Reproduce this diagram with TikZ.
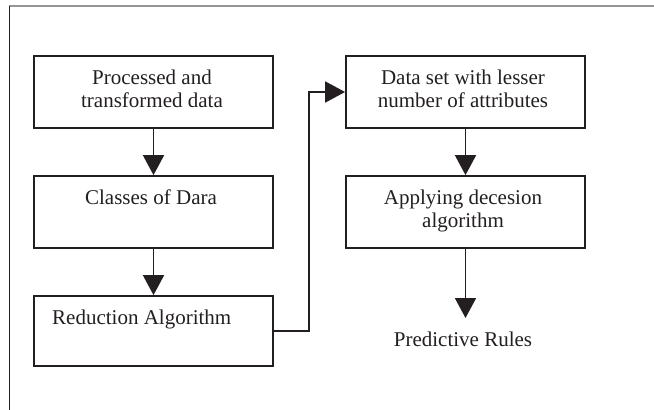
\documentclass[tikz,border=0pt]{standalone}
\usepackage{fontspec}
\setmainfont{Liberation Serif}
\usetikzlibrary{arrows.meta}
\definecolor{ink}{HTML}{231F20}
\definecolor{framegray}{HTML}{959595}
\tikzset{
  box/.style={draw=ink, line width=1.8pt, minimum width=239pt, inner sep=0pt, anchor=center},
  lbl/.style={text=ink, inner sep=0pt, anchor=base, font=\fontsize{21}{23}\selectfont},
  arr/.style={draw=ink, line width=1.8pt, -{Triangle[width=21pt,length=20pt]}},
}
\newcommand{\twol}[2]{\begin{tabular}[t]{@{}c@{}}#1\\#2\end{tabular}}
\begin{document}
\begin{tikzpicture}[x=1pt,y=-1pt]
\useasboundingbox (0,0) rectangle (654,410);
\fill[white] (0,0) rectangle (654,410);
% frame
\coordinate (ftl) at (9,6.3);
\coordinate (ftr) at (654,6.3);
\coordinate (fbl) at (9,410);
\draw[framegray, line width=2pt] (ftl) -- (ftr);
\draw[ink, line width=1pt] (ftl) -- (fbl);
% boxes
\node[box, minimum height=72pt] (b1) at (153.5,92) {};
\node[box, minimum height=72pt] (b2) at (153.5,212) {};
\node[box, minimum height=70pt] (b3) at (153.5,331) {};
\node[box, minimum height=72pt] (b4) at (465.5,92) {};
\node[box, minimum height=72pt] (b5) at (465.5,212) {};
% texts
\node[lbl] (t1) at (152,84) {\twol{Processed and}{transformed data}};
\node[lbl] (t2) at (151,204) {Classes of Dara};
\node[lbl, anchor=base west] (t3) at (52,324) {Reduction Algorithm};
\node[lbl] (t4) at (463,84) {\twol{Data set with lesser}{number of attributes}};
\node[lbl] (t5) at (463,204) {\twol{Applying decesion}{algorithm}};
\node[lbl] (t6) at (463,346) {Predictive Rules};
\coordinate (pe) at (465.5,318);
\coordinate (bend) at (309,331);
% connectors
\draw[arr] (b1.south) -- (b2.north);
\draw[arr] (b2.south) -- (b3.north);
\draw[arr] (b3.east) -- (bend) |- (b4.west);
\draw[arr] (b4.south) -- (b5.north);
\draw[arr] (b5.south) -- (pe);
\end{tikzpicture}
\end{document}
